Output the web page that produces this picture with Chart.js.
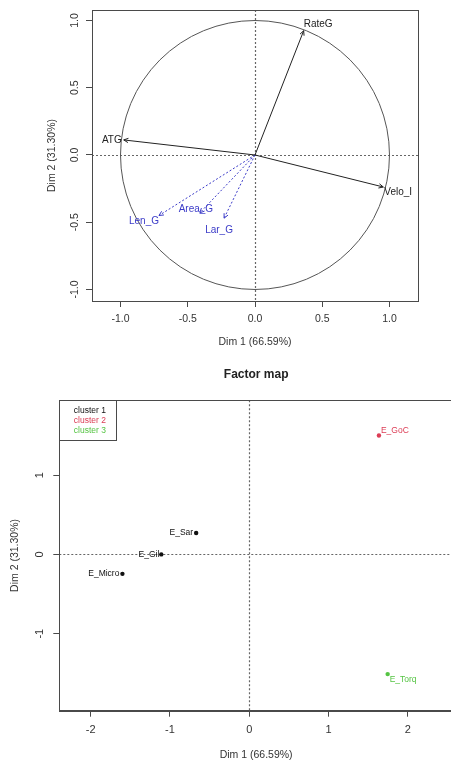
<!DOCTYPE html>
<html>
<head>
<meta charset="utf-8">
<script src="https://cdn.jsdelivr.net/npm/chart.js@4"></script>
<style>
  html, body { margin: 0; padding: 0; background: #fff; overflow: hidden; width: 451px; height: 760px; }
  #graficoCirculo { position: absolute; left: 0; top: 0; }
  #graficoMapa { position: absolute; left: 0; top: 360px; }
</style>
</head>
<body>
<canvas id="graficoCirculo" width="451" height="360"></canvas>
<canvas id="graficoMapa" width="470" height="410"></canvas>
<script>
// 1. Dados do círculo de correlação (variáveis ativas e suplementares)
const varNomes = ['ATG', 'RateG', 'Velo_I'];
const varDim1 = [-0.976, 0.362, 0.954];
const varDim2 = [0.112, 0.924, -0.238];

const supNomes = ['Len_G', 'Area_G', 'Lar_G'];
const supDim1 = [-0.714, -0.41, -0.23];
const supDim2 = [-0.45, -0.43, -0.47];

const ticksCirculo = [-1.0, -0.5, 0.0, 0.5, 1.0];
const rotulosTicksCirculo = ['-1.0', '-0.5', '0.0', '0.5', '1.0'];

// 2. Dados do factor map (indivíduos por cluster)
const clusterNomes = ['cluster 1', 'cluster 2', 'cluster 3'];
const c1Nomes = ['E_Micro', 'E_Gil', 'E_Sar'];
const c1Dim1 = [-1.60, -1.11, -0.67];
const c1Dim2 = [-0.245, 0.0, 0.27];
const c2Nomes = ['E_GoC'];
const c2Dim1 = [1.635];
const c2Dim2 = [1.50];
const c3Nomes = ['E_Torq'];
const c3Dim1 = [1.745];
const c3Dim2 = [-1.51];

const ticksMapaX = [-2, -1, 0, 1, 2];
const ticksMapaY = [-1, 0, 1];

// 3. Estilo (cores, posição dos rótulos em px)
Chart.defaults.font.family = "'Liberation Sans', Arial, sans-serif";
Chart.defaults.color = '#333';
const corEixo = '#4a4a4a';
const corAtiva = '#222';
const corSup = '#3b3bc8';
const coresCluster = ['#111', '#dc3c55', '#55c443'];

const posRotulo = {
  ATG: { dx: -2, dy: 0, align: 'right' },
  RateG: { dx: 0, dy: -6, align: 'left' },
  Velo_I: { dx: 1, dy: 5, align: 'left' },
  Len_G: { dx: -15, dy: 6, align: 'center' },
  Area_G: { dx: -4, dy: -4, align: 'center' },
  Lar_G: { dx: -5, dy: 12, align: 'center' },
  E_Micro: { dx: -3, dy: 0, align: 'right' },
  E_Gil: { dx: -2, dy: 0, align: 'right' },
  E_Sar: { dx: -3, dy: 0, align: 'right' },
  E_GoC: { dx: 2, dy: -5, align: 'left' },
  E_Torq: { dx: 2, dy: 6, align: 'left' }
};

// Linhas pontilhadas em zero + caixa do gráfico
function desenharReferencias(chart) {
  const { ctx, chartArea: a, scales: { x, y } } = chart;
  const x0 = x.getPixelForValue(0), y0 = y.getPixelForValue(0);
  ctx.save();
  ctx.strokeStyle = '#666';
  ctx.lineWidth = 1.2;
  ctx.setLineDash([2, 2]);
  ctx.beginPath();
  ctx.moveTo(Math.round(x0) + 0.5, a.top);
  ctx.lineTo(Math.round(x0) + 0.5, a.bottom);
  ctx.moveTo(a.left, Math.round(y0) + 0.5);
  ctx.lineTo(a.right, Math.round(y0) + 0.5);
  ctx.stroke();
  ctx.restore();
}

function desenharCaixa(chart) {
  const { ctx, chartArea: a } = chart;
  ctx.save();
  ctx.strokeStyle = corEixo;
  ctx.lineWidth = 1;
  ctx.strokeRect(Math.round(a.left) + 0.5, Math.round(a.top) + 0.5, Math.round(a.right - a.left), Math.round(a.bottom - a.top));
  ctx.restore();
}

// Rótulos do eixo Y giram 90° como no R
function desenharTicksY(chart, valores, rotulos, xPos, tamanho) {
  const { ctx, scales: { y } } = chart;
  ctx.save();
  ctx.fillStyle = '#333';
  ctx.font = tamanho + "px 'Liberation Sans', Arial, sans-serif";
  ctx.textAlign = 'center';
  ctx.textBaseline = 'middle';
  valores.forEach((v, i) => {
    ctx.save();
    ctx.translate(xPos, y.getPixelForValue(v));
    ctx.rotate(-Math.PI / 2);
    ctx.fillText(rotulos[i], 0, 0);
    ctx.restore();
  });
  ctx.restore();
}

function escrever(ctx, texto, px, py, nome, cor, tamanho) {
  const p = posRotulo[nome] || { dx: 0, dy: 0, align: 'center' };
  ctx.fillStyle = cor;
  ctx.font = tamanho + "px 'Liberation Sans', Arial, sans-serif";
  ctx.textAlign = p.align;
  ctx.textBaseline = 'middle';
  ctx.fillText(texto, px + p.dx, py + p.dy);
}

// 4. Plugin do círculo: círculo unitário, setas e rótulos
const circuloPlugin = {
  id: 'circulo',
  beforeDatasetsDraw(chart) {
    const { ctx, scales: { x, y } } = chart;
    const cx = x.getPixelForValue(0), cy = y.getPixelForValue(0);
    const r = x.getPixelForValue(1) - cx;
    desenharReferencias(chart);
    ctx.save();
    ctx.strokeStyle = '#555';
    ctx.lineWidth = 1;
    ctx.beginPath();
    ctx.arc(cx, cy, r, 0, Math.PI * 2);
    ctx.stroke();
    ctx.restore();
  },
  afterDatasetsDraw(chart) {
    const ctx = chart.ctx;
    chart.data.datasets.forEach((ds, i) => {
      const pts = chart.getDatasetMeta(i).data;
      const a = pts[0], b = pts[1];
      const ang = Math.atan2(b.y - a.y, b.x - a.x);
      const tam = 5, abre = Math.PI / 7;
      ctx.save();
      ctx.strokeStyle = ds.borderColor;
      ctx.lineWidth = 1;
      ctx.beginPath();
      ctx.moveTo(b.x - tam * Math.cos(ang - abre), b.y - tam * Math.sin(ang - abre));
      ctx.lineTo(b.x, b.y);
      ctx.lineTo(b.x - tam * Math.cos(ang + abre), b.y - tam * Math.sin(ang + abre));
      ctx.stroke();
      escrever(ctx, ds.label, b.x, b.y, ds.label, ds.borderColor, 10);
      ctx.restore();
    });
    desenharCaixa(chart);
    desenharTicksY(chart, ticksCirculo, rotulosTicksCirculo, chart.chartArea.left - 17, 10.5);
  }
};

// 5. Plugin do factor map: referências, rótulos dos pontos e legenda
const mapaPlugin = {
  id: 'mapa',
  beforeDatasetsDraw(chart) {
    desenharReferencias(chart);
  },
  afterDatasetsDraw(chart) {
    const ctx = chart.ctx;
    const a = chart.chartArea;
    chart.data.datasets.forEach((ds, i) => {
      chart.getDatasetMeta(i).data.forEach((pt, j) => {
        ctx.save();
        escrever(ctx, ds.nomes[j], pt.x, pt.y, ds.nomes[j], ds.backgroundColor, 8.5);
        ctx.restore();
      });
    });
    desenharCaixa(chart);
    // legenda no canto superior esquerdo
    ctx.save();
    ctx.strokeStyle = corEixo;
    ctx.lineWidth = 1;
    ctx.strokeRect(Math.round(a.left) + 0.5, Math.round(a.top) + 0.5, 57, 40);
    ctx.font = "8.5px 'Liberation Sans', Arial, sans-serif";
    ctx.textAlign = 'left';
    ctx.textBaseline = 'middle';
    chart.data.datasets.forEach((ds, i) => {
      ctx.fillStyle = ds.backgroundColor;
      ctx.fillText(ds.label, a.left + 14.5, a.top + 10.5 + i * 9.8);
    });
    ctx.restore();
    desenharTicksY(chart, ticksMapaY, ticksMapaY.map(String), a.left - 19.3, 11);
  }
};

function eixo(min, max, valores, rotulos, titulo, opc) {
  return {
    type: 'linear',
    min: min,
    max: max,
    afterBuildTicks: s => { s.ticks = valores.map(v => ({ value: v })); },
    afterFit: s => { if (opc.largura) s.width = opc.largura; if (opc.altura) s.height = opc.altura; },
    ticks: {
      display: opc.mostrarTicks,
      callback: (v, i) => rotulos[i],
      font: { size: opc.fonteTick },
      padding: opc.padTick,
      maxRotation: 0,
      autoSkip: false,
      color: '#333'
    },
    grid: { drawOnChartArea: false, drawTicks: true, tickLength: 6, tickColor: corEixo, color: corEixo },
    border: { display: true, color: corEixo },
    title: { display: true, text: titulo, font: { size: 10.5 }, color: '#333', padding: opc.padTitulo }
  };
}

function desenharCirculo() {
  const ativas = varNomes.map((n, i) => ({
    label: n,
    data: [{ x: 0, y: 0 }, { x: varDim1[i], y: varDim2[i] }],
    showLine: true, borderColor: corAtiva, borderWidth: 1, pointRadius: 0
  }));
  const suplementares = supNomes.map((n, i) => ({
    label: n,
    data: [{ x: 0, y: 0 }, { x: supDim1[i], y: supDim2[i] }],
    showLine: true, borderColor: corSup, borderWidth: 1, borderDash: [2, 2], pointRadius: 0
  }));

  new Chart(document.getElementById('graficoCirculo'), {
    type: 'scatter',
    data: { datasets: [...ativas, ...suplementares] },
    options: {
      responsive: false,
      animation: false,
      layout: { padding: { left: 0, top: 10, right: 33, bottom: 0 }, autoPadding: false },
      plugins: { legend: { display: false }, tooltip: { enabled: false }, title: { display: false } },
      scales: {
        x: eixo(-1.212, 1.212, ticksCirculo, rotulosTicksCirculo, 'Dim 1 (66.59%)',
          { altura: 59, mostrarTicks: true, fonteTick: 10.5, padTick: 6, padTitulo: { top: 0, bottom: 11.7 } }),
        y: eixo(-1.0855, 1.078, ticksCirculo, rotulosTicksCirculo, 'Dim 2 (31.30%)',
          { largura: 92, mostrarTicks: false, fonteTick: 10.5, padTick: 6, padTitulo: { top: 45.4, bottom: 0 } })
      }
    },
    plugins: [circuloPlugin]
  });
}

function desenharMapa() {
  const grupos = [[c1Nomes, c1Dim1, c1Dim2], [c2Nomes, c2Dim1, c2Dim2], [c3Nomes, c3Dim1, c3Dim2]];
  const datasets = grupos.map((g, k) => ({
    label: clusterNomes[k],
    nomes: g[0],
    data: g[0].map((n, i) => ({ x: g[1][i], y: g[2][i] })),
    backgroundColor: coresCluster[k],
    borderWidth: 0,
    pointRadius: 2.2
  }));

  new Chart(document.getElementById('graficoMapa'), {
    type: 'scatter',
    data: { datasets: datasets },
    options: {
      responsive: false,
      animation: false,
      layout: { padding: { left: 0, top: 0, right: 17, bottom: 0 }, autoPadding: false },
      plugins: {
        legend: { display: false },
        tooltip: { enabled: false },
        title: {
          display: true, text: 'Factor map', fullSize: false, color: '#222',
          font: { size: 12, weight: 'bold' }, padding: { top: 7.8, bottom: 18 }
        }
      },
      scales: {
        x: eixo(-2.396, 2.569, ticksMapaX, ticksMapaX.map(String), 'Dim 1 (66.59%)',
          { altura: 59.3, mostrarTicks: true, fonteTick: 11, padTick: 7, padTitulo: { top: 0, bottom: 8.7 } }),
        y: eixo(-1.972, 1.946, ticksMapaY, ticksMapaY.map(String), 'Dim 2 (31.30%)',
          { largura: 59.3, mostrarTicks: false, fonteTick: 11, padTick: 6, padTitulo: { top: 8.7, bottom: 0 } })
      }
    },
    plugins: [mapaPlugin]
  });
}

document.addEventListener('DOMContentLoaded', () => {
  desenharCirculo();
  desenharMapa();
});
</script>
</body>
</html>
